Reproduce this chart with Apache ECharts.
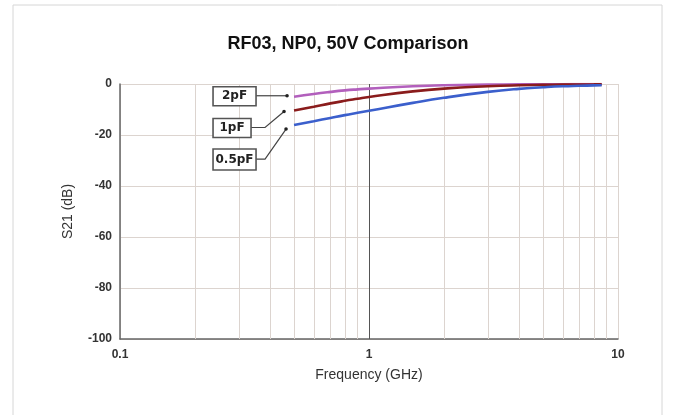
<!DOCTYPE html>
<html><head><meta charset="utf-8">
<script src="https://cdn.jsdelivr.net/npm/echarts@6/dist/echarts.min.js"></script>
<style>html,body{margin:0;padding:0;background:#fff}#c{width:674px;height:415px}</style>
</head><body><div id="c"></div>
<script>
const freqGHz = [0.5, 0.6, 0.7, 0.8, 0.9, 1, 1.5, 2, 3, 4, 5, 6, 7, 8, 8.6];
const s21_2pF = [-5.0, -3.9, -3.1, -2.5, -2.1, -1.8, -0.9, -0.5, -0.25, -0.15, -0.1, -0.07, -0.05, -0.04, -0.03];
const s21_1pF = [-10.4, -8.9, -7.6, -6.6, -5.8, -5.1, -2.9, -1.8, -0.9, -0.5, -0.35, -0.25, -0.2, -0.15, -0.1];
const s21_05pF = [-16.1, -14.6, -13.3, -12.2, -11.3, -10.5, -7.4, -5.4, -3.1, -1.9, -1.3, -0.9, -0.7, -0.55, -0.5];
const seriesNames = ['2pF', '1pF', '0.5pF'];
const yTicks = [0, -20, -40, -60, -80, -100];
const xTicks = [0.1, 1, 10];
const minorGridX = [0.2,0.3,0.4,0.5,0.6,0.7,0.8,0.9,2,3,4,5,6,7,8,9];

const colors = ['#b25fbc', '#8a1c1c', '#3b5fcc'];
const valuesList = [s21_2pF, s21_1pF, s21_05pF];
const pair = v => freqGHz.map((f, i) => [f, v[i]]);

const chart = echarts.init(document.getElementById('c'), null, {renderer: 'canvas'});
const font = '"Liberation Sans", Arial, sans-serif';

const series = valuesList.map((v, i) => ({
  name: seriesNames[i], type: 'line', data: pair(v), showSymbol: false, smooth: true,
  lineStyle: {color: colors[i], width: 2.6}, itemStyle: {color: colors[i]}, z: 5
}));
series[0].markLine = {
  silent: true, symbol: 'none', label: {show: false}, animation: false,
  lineStyle: {color: '#dcd4cf', width: 1, type: 'solid'},
  data: minorGridX.map(x => ({xAxis: x}))
};
series[1].markLine = {
  silent: true, symbol: 'none', label: {show: false}, animation: false,
  lineStyle: {color: '#555', width: 1, type: 'solid'},
  data: [{xAxis: 1}]
};

chart.setOption({
  animation: false,
  backgroundColor: '#fff',
  title: {text: 'RF03, NP0, 50V Comparison', left: 343, top: 30, textAlign: 'center',
    textStyle: {fontFamily: font, fontSize: 18, fontWeight: 'bold', color: '#111'}},
  grid: {left: 120, right: 56, top: 84, bottom: 76},
  xAxis: {
    type: 'log', logBase: 10, min: 0.1, max: 10,
    name: 'Frequency (GHz)', nameLocation: 'middle', nameGap: 29,
    nameTextStyle: {fontFamily: font, fontSize: 14, color: '#333'},
    axisLine: {show: true, onZero: false, lineStyle: {color: '#666', width: 1.5}},
    axisTick: {show: false},
    axisLabel: {fontFamily: font, fontSize: 12, fontWeight: 'bold', color: '#333', margin: 10,
      formatter: v => String(xTicks.find(t => Math.abs(t - v) < 1e-6) ?? v)},
    splitLine: {show: true, lineStyle: {color: '#dcd4cf', width: 1}},
    minorTick: {show: false}
  },
  yAxis: {
    type: 'value', min: -100, max: 0, interval: 20,
    name: 'S21 (dB)', nameLocation: 'middle', nameGap: 45,
    nameTextStyle: {fontFamily: font, fontSize: 14, color: '#333'},
    axisLine: {show: true, lineStyle: {color: '#666', width: 1.5}},
    axisTick: {show: false},
    axisLabel: {fontFamily: font, fontSize: 12, fontWeight: 'bold', color: '#333', margin: 8,
      formatter: v => String(yTicks.find(t => t === v) ?? v)},
    splitLine: {show: true, lineStyle: {color: '#dcd4cf', width: 1}}
  },
  series: series
});

// Callout annotations anchored at the first data point of each series
const anchors = valuesList.map(v => chart.convertToPixel({gridIndex: 0}, [freqGHz[0], v[0]]));
const ann = [
  {box: [-81, -10, 43, 19], pts: [[-38, -1], [-7, -1]]},
  {box: [-81, 8, 38, 19], pts: [[-43, 17], [-29, 17], [-10, 1]]},
  {box: [-81, 24, 43, 21], pts: [[-38, 34], [-29, 34], [-8, 4]]}
];
const g = [{type: 'rect', shape: {x: 13, y: 5, width: 649, height: 430},
  style: {fill: 'none', stroke: '#d6d6d6', lineWidth: 1}, silent: true, z: 0}];
ann.forEach((a, i) => {
  const [ax, ay] = anchors[i];
  const pts = a.pts.map(p => [ax + p[0], ay + p[1]]);
  g.push({type: 'polyline', shape: {points: pts}, style: {stroke: '#444', lineWidth: 1.2, fill: 'none'}, z: 10});
  const end = pts[pts.length - 1];
  g.push({type: 'circle', shape: {cx: end[0], cy: end[1], r: 1.8}, style: {fill: '#222'}, z: 10});
  g.push({type: 'rect', shape: {x: ax + a.box[0], y: ay + a.box[1], width: a.box[2], height: a.box[3]},
    style: {fill: '#fff', stroke: '#555', lineWidth: 1.6}, z: 10});
  g.push({type: 'text', x: ax + a.box[0] + a.box[2] / 2, y: ay + a.box[1] + a.box[3] / 2,
    style: {text: seriesNames[i], fill: '#222', font: 'bold 12px "DejaVu Sans", Verdana, sans-serif',
      textAlign: 'center', textVerticalAlign: 'middle'}, z: 11});
});
chart.setOption({graphic: g});
</script></body></html>
